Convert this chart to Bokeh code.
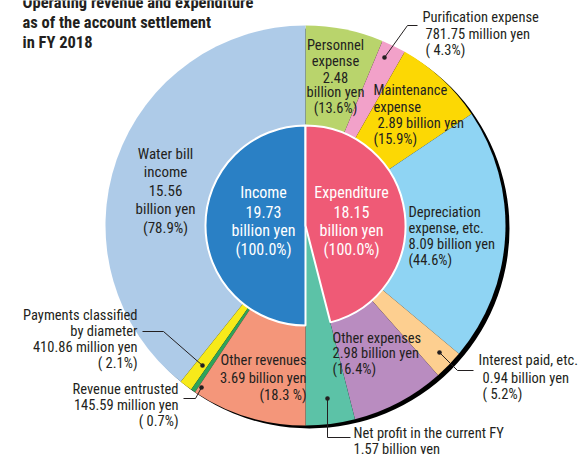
import math
from bokeh.plotting import figure
from bokeh.models import Range1d
from bokeh.core.properties import value
from bokeh.embed import file_html
from bokeh.resources import INLINE

W, H = 581, 454

# ---- data (billion yen) ----
income_cats = ["Water bill income", "Payments classified by diameter",
               "Revenue entrusted", "Other revenues"]
income_vals = [15.56, 0.41086, 0.14559, 3.69]
income_colors = ["#aecbe8", "#f7ea1a", "#2ea35a", "#f4967a"]

exp_cats = ["Personnel expense", "Purification expense", "Maintenance expense",
            "Depreciation expense, etc.", "Interest paid, etc.", "Other expenses",
            "Net profit in the current FY"]
exp_vals = [2.48, 0.78175, 2.89, 8.09, 0.94, 2.98, 1.57]
exp_colors = ["#b9d46c", "#f2a1c9", "#fcd804", "#8fd4f3", "#fdcf90", "#b98cc0", "#5cc2a7"]

inner_cats = ["Income", "Expenditure"]
inner_vals = [19.73, 18.15]
inner_colors = ["#2a80c5", "#ef5a76"]

FONT = value("'Roboto Condensed', 'DejaVu Sans Condensed', Roboto, sans-serif")

def Y(py):
    return H - py

CX, CY = 305, Y(225)
R_OUT, R_IN = 200, 100

p = figure(width=W, height=H, x_range=Range1d(0, W), y_range=Range1d(0, H),
           output_backend="svg", toolbar_location=None, min_border=0)
p.xaxis.visible = False
p.yaxis.visible = False
p.xgrid.visible = False
p.ygrid.visible = False
p.outline_line_color = None
p.background_fill_color = "white"

# shadow
p.circle(x=[CX + 4], y=[CY - 3], radius=R_OUT, fill_color="black", line_color=None)

# outer ring - expenditure side, clockwise from top
tot_e = sum(exp_vals)
cum = 0.0
for v, c in zip(exp_vals, exp_colors):
    a0 = math.pi / 2 - cum / tot_e * math.pi
    cum += v
    a1 = math.pi / 2 - cum / tot_e * math.pi
    p.wedge(x=[CX], y=[CY], radius=R_OUT, start_angle=a1, end_angle=a0,
            fill_color=c, line_color=None)

# outer ring - income side, counterclockwise from top
tot_i = sum(income_vals)
cum = 0.0
for v, c in zip(income_vals, income_colors):
    a0 = math.pi / 2 + cum / tot_i * math.pi
    cum += v
    a1 = math.pi / 2 + cum / tot_i * math.pi
    p.wedge(x=[CX], y=[CY], radius=R_OUT, start_angle=a0, end_angle=a1,
            fill_color=c, line_color=None)

# inner: income half and expenditure part
p.wedge(x=[CX], y=[CY], radius=R_IN, start_angle=math.pi / 2, end_angle=3 * math.pi / 2,
        fill_color=inner_colors[0], line_color="white", line_width=2)
exp_span = inner_vals[1] / inner_vals[0] * math.pi
p.wedge(x=[CX], y=[CY], radius=R_IN, start_angle=math.pi / 2 - exp_span, end_angle=math.pi / 2,
        fill_color=inner_colors[1], line_color="white", line_width=2)

def lines(x, ys, texts, size="14.5px", align="center", color="#231f20", style="normal"):
    p.text(x=[x] * len(texts), y=[Y(v) for v in ys], text=texts,
           text_font=FONT, text_font_size=size, text_align=align,
           text_baseline="middle", text_color=color, text_font_style=style)

# title
for yb, t in [(2, "Operating revenue and expenditure"), (22, "as of the account settlement"),
              (42, "in FY 2018")]:
    p.text(x=[22], y=[Y(yb)], text=[t], text_font=FONT, text_font_size="16.5px",
           text_font_style="bold", text_align="left", text_baseline="alphabetic",
           text_color="#231f20")

# inner labels
lines(263, [192, 211, 230, 249], ["Income", "19.73", "billion yen", "(100.0%)"],
      size="16px", color="white")
lines(351, [192, 211, 230, 249], ["Expenditure", "18.15", "billion yen", "(100.0%)"],
      size="16px", color="white")

# outer labels
lines(165, [153, 171, 190, 208, 227], ["Water bill", "income", "15.56", "billion yen", "(78.9%)"],
      size="15px")
lines(335, [45, 61, 77, 92, 108], ["Personnel", "expense", "2.48", "billion yen", "(13.6%)"])
lines(373, [90, 107], ["Maintenance", "expense"], align="left")
lines(377, [123], ["2.89 billion yen"], align="left")
lines(373, [139], ["(15.9%)"], align="left")
lines(422, [17], ["Purification expense"], align="left")
lines(425, [34, 50], ["781.75 million yen", "( 4.3%)"], align="left")
lines(408, [212, 228, 244, 260], ["Depreciation", "expense, etc.", "8.09  billion yen", "(44.6%)"],
      align="left")
lines(332, [338, 353, 369], ["Other expenses", "2.98 billion yen", "(16.4%)"], align="left")
lines(478, [360], ["Interest paid, etc."], align="left")
lines(482, [378, 394], ["0.94 billion yen", "( 5.2%)"], align="left")
lines(353, [433, 449], ["Net profit in the current FY", "1.57 billion yen"], align="left")
lines(306, [360, 378, 395], ["Other revenues", "3.69 billion yen", "(18.3 %)"], align="right")
lines(137, [315, 331, 347, 363], ["Payments classified", "by diameter", "410.86 million yen",
                                  "( 2.1%)"], align="right")
lines(178, [389, 405, 421], ["Revenue entrusted", "145.59 million yen", "( 0.7%)"], align="right")

# leader lines
def leader(pts, dot):
    p.line(x=[a for a, b in pts], y=[Y(b) for a, b in pts], line_color="#231f20", line_width=1)
    p.circle(x=[dot[0]], y=[Y(dot[1])], radius=2.3, fill_color="#231f20", line_color=None)

leader([(384, 57), (407, 25), (417, 25)], (384, 57))
leader([(439, 352), (457, 370), (473, 370)], (439, 352))
leader([(327, 398), (327, 437), (350, 437)], (327, 398))
leader([(142, 331), (163, 331), (202, 365)], (202, 365))
leader([(183, 398), (195, 398), (201, 387)], (201, 387))

open("out.html", "w").write(file_html(p, INLINE))
